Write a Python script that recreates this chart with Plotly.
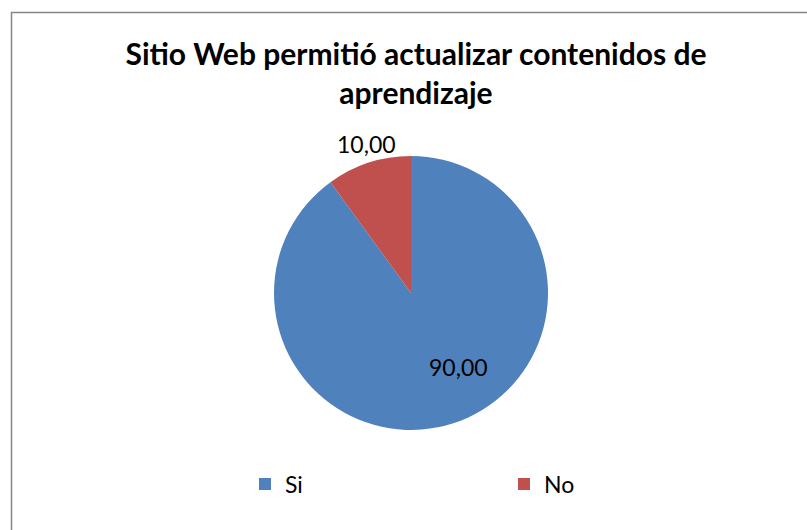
import plotly.graph_objects as go

# Survey responses
categories = ["Si", "No"]
values = [90.00, 10.00]
colors = ["#4F81BD", "#C0504D"]
title_text = "Sitio Web permitió actualizar contenidos de<br>aprendizaje"

W, H = 807, 530
FONT = "Lato"

# pie geometry in pixels
cx, cy, r = 411, 293, 137

fig = go.Figure(
    go.Pie(
        labels=categories,
        values=values,
        marker=dict(colors=colors, line=dict(width=0)),
        sort=False,
        direction="clockwise",
        rotation=0,
        textinfo="none",
        hoverinfo="label+value",
        domain=dict(
            x=[(cx - r) / W, (cx + r) / W],
            y=[1 - (cy + r) / H, 1 - (cy - r) / H],
        ),
    )
)

# data labels formatted from the values
label_pos = [(458, 367), (366, 144)]
for v, (px, py) in zip(values, label_pos):
    fig.add_annotation(
        x=px / W, y=1 - py / H, xref="paper", yref="paper",
        text=f"{v:.2f}".replace(".", ","), showarrow=False,
        font=dict(family=FONT, size=23, color="#000000"),
        xanchor="center", yanchor="middle",
    )

# chart area border
fig.add_shape(
    type="rect", xref="paper", yref="paper",
    x0=11.5 / W, x1=820 / W, y0=-20 / H, y1=1 - 12.5 / H,
    line=dict(color="#868686", width=1.5), fillcolor="rgba(0,0,0,0)",
)

fig.update_layout(
    width=W, height=H,
    margin=dict(l=0, r=0, t=0, b=0),
    paper_bgcolor="white",
    plot_bgcolor="white",
    separators=",.",
    title=dict(
        text=title_text, x=416 / W, xanchor="center",
        y=1 - 65 / H, yanchor="middle",
        font=dict(family=FONT, size=30, color="#000000", weight="bold"),
    ),
    showlegend=True,
    legend=dict(
        orientation="h", x=245 / W, y=1 - 484 / H,
        xanchor="left", yanchor="middle",
        entrywidth=214, entrywidthmode="pixels",
        font=dict(family=FONT, size=23, color="#000000"),
        bgcolor="rgba(0,0,0,0)", itemclick=False,
    ),
)

fig.write_html("out.html")
